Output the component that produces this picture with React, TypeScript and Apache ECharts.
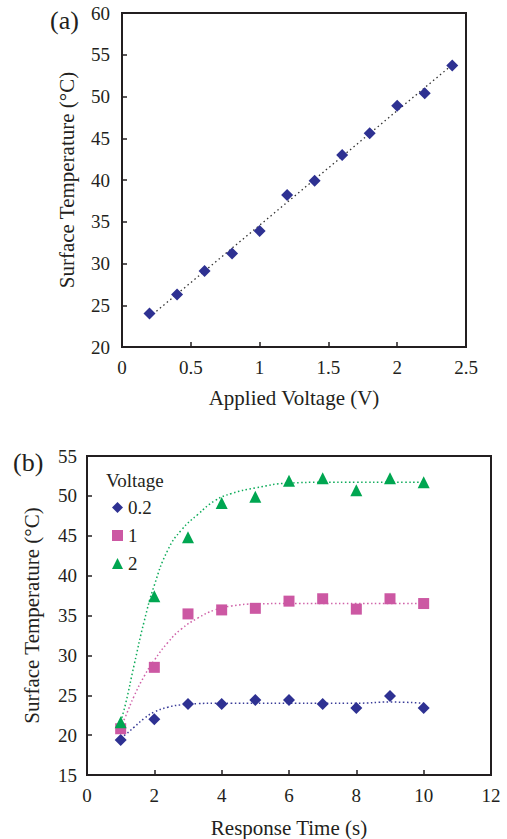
import React, { useEffect, useRef } from "react";
import * as echarts from "echarts";

// ---- Chart (a): surface temperature vs applied voltage ----
const voltageA = [0.2, 0.4, 0.6, 0.8, 1.0, 1.2, 1.4, 1.6, 1.8, 2.0, 2.2, 2.4];
const temperatureA = [24.0, 26.3, 29.1, 31.2, 33.9, 38.2, 39.9, 43.0, 45.6, 48.9, 50.4, 53.7];
const trendVoltageA = [0.2, 2.4];
const trendTempA = [23.6, 53.8];

// ---- Chart (b): surface temperature vs response time ----
const legendTitle = "Voltage";
const seriesNamesB = ["0.2", "1", "2"];
const timesB = [1, 2, 3, 4, 5, 6, 7, 8, 9, 10];
const temp02 = [19.4, 22.0, 23.9, 23.9, 24.4, 24.4, 23.9, 23.4, 24.9, 23.4];
const temp1 = [20.8, 28.5, 35.2, 35.7, 35.9, 36.8, 37.1, 35.8, 37.1, 36.5];
const temp2 = [21.6, 37.4, 44.8, 49.1, 49.9, 51.9, 52.2, 50.7, 52.2, 51.7];

const fitTimes = [1, 1.15, 1.4, 1.7, 2, 2.4, 2.8, 3.3, 3.8, 4.3, 5, 6, 7, 8, 9, 10];
const fit02 = [19.7, 20.1, 21.0, 22.1, 22.9, 23.5, 23.8, 23.95, 24.0, 24.0, 24.0, 24.0, 24.0, 24.0, 24.15, 24.0];
const fit1 = [21.0, 22.4, 24.9, 27.4, 29.4, 31.6, 33.3, 34.7, 35.7, 36.2, 36.45, 36.5, 36.5, 36.5, 36.5, 36.5];
const fit2 = [21.7, 24.0, 28.8, 34.3, 38.8, 43.2, 45.7, 47.7, 49.4, 50.3, 51.0, 51.6, 51.7, 51.7, 51.7, 51.7];

const xTitleA = "Applied Voltage (V)";
const xTitleB = "Response Time (s)";
const yTitle = "Surface Temperature (°C)";

const FONT = "'Liberation Serif', 'Times New Roman', serif";
const INK = "#231F20";
const BLUE = "#2E3192";
const PINK = "#CC58A3";
const GREEN = "#00A651";

const zip = (xs: number[], ys: number[]) => xs.map((x, i) => [x, ys[i]]);

export default function App() {
  const ref = useRef<HTMLDivElement>(null);
  useEffect(() => {
    if (!ref.current) return;
    const chart = echarts.init(ref.current, null, { renderer: "svg" });

    const axisCommon = {
      axisLine: { show: true, onZero: false, lineStyle: { color: INK, width: 2 } },
      axisTick: { show: true, inside: true, length: 5, lineStyle: { color: INK, width: 1.5 } },
      splitLine: { show: false },
      axisLabel: { color: INK, fontSize: 19, fontFamily: FONT },
      nameTextStyle: { color: INK, fontSize: 21, fontFamily: FONT },
      nameLocation: "middle" as const,
    };

    const dotted = (color: string) => ({ color, width: 1.5, type: [1.5, 2.5] as any, opacity: 0.95 });

    chart.setOption({
      animation: false,
      backgroundColor: "#fff",
      grid: [
        { left: 122, top: 13, width: 344, height: 334, show: true, borderColor: INK, borderWidth: 2, backgroundColor: "transparent" },
        { left: 87, top: 456, width: 404, height: 321, show: true, borderColor: INK, borderWidth: 2, backgroundColor: "transparent" },
      ],
      xAxis: [
        { ...axisCommon, type: "value", gridIndex: 0, min: 0, max: 2.5, interval: 0.5, name: xTitleA, nameGap: 40,
          axisLabel: { ...axisCommon.axisLabel, margin: 11 } },
        { ...axisCommon, type: "value", gridIndex: 1, min: 0, max: 12, interval: 2, name: xTitleB, nameGap: 42,
          axisLabel: { ...axisCommon.axisLabel, margin: 11 } },
      ],
      yAxis: [
        { ...axisCommon, type: "value", gridIndex: 0, min: 20, max: 60, interval: 5, name: yTitle, nameGap: 45,
          axisLabel: { ...axisCommon.axisLabel, margin: 12 } },
        { ...axisCommon, type: "value", gridIndex: 1, min: 15, max: 55, interval: 5, name: yTitle, nameGap: 45,
          axisLabel: { ...axisCommon.axisLabel, margin: 10 } },
      ],
      legend: {
        orient: "vertical",
        left: 107,
        top: 493,
        padding: 5,
        itemWidth: 11,
        itemHeight: 11,
        itemGap: 9,
        data: seriesNamesB,
        itemStyle: { opacity: 1 },
        textStyle: { color: INK, fontSize: 19, fontFamily: FONT },
      },
      graphic: [
        { type: "text", left: 50, top: 7, style: { text: "(a)", font: `26px ${FONT}`, fill: INK } },
        { type: "text", left: 13, top: 449, style: { text: "(b)", font: `26px ${FONT}`, fill: INK } },
        { type: "text", left: 106, top: 471, style: { text: legendTitle, font: `19px ${FONT}`, fill: INK } },
      ],
      series: [
        { type: "line", xAxisIndex: 0, yAxisIndex: 0, data: zip(trendVoltageA, trendTempA), symbol: "none",
          lineStyle: { color: "#333", width: 1.3, type: [1.5, 3] }, z: 1, silent: true },
        { type: "scatter", xAxisIndex: 0, yAxisIndex: 0, data: zip(voltageA, temperatureA), symbol: "diamond",
          symbolSize: 12, itemStyle: { color: BLUE, opacity: 1 }, z: 3 },

        { type: "line", xAxisIndex: 1, yAxisIndex: 1, data: zip(fitTimes, fit02), symbol: "none", smooth: true,
          lineStyle: dotted(BLUE), z: 1, silent: true },
        { type: "line", xAxisIndex: 1, yAxisIndex: 1, data: zip(fitTimes, fit1), symbol: "none", smooth: true,
          lineStyle: dotted(PINK), z: 1, silent: true },
        { type: "line", xAxisIndex: 1, yAxisIndex: 1, data: zip(fitTimes, fit2), symbol: "none", smooth: true,
          lineStyle: dotted(GREEN), z: 1, silent: true },

        { name: seriesNamesB[0], type: "scatter", xAxisIndex: 1, yAxisIndex: 1, data: zip(timesB, temp02),
          symbol: "diamond", symbolSize: 12, itemStyle: { color: BLUE, opacity: 1 }, z: 3 },
        { name: seriesNamesB[1], type: "scatter", xAxisIndex: 1, yAxisIndex: 1, data: zip(timesB, temp1),
          symbol: "rect", symbolSize: 11, itemStyle: { color: PINK, opacity: 1 }, z: 3 },
        { name: seriesNamesB[2], type: "scatter", xAxisIndex: 1, yAxisIndex: 1, data: zip(timesB, temp2),
          symbol: "triangle", symbolSize: 12, itemStyle: { color: GREEN, opacity: 1 }, z: 3 },
      ],
    });
    return () => chart.dispose();
  }, []);

  return (
    <div
      ref={ref}
      style={{ position: "fixed", left: 0, top: 0, width: 507, height: 839, background: "#fff" }}
    />
  );
}
